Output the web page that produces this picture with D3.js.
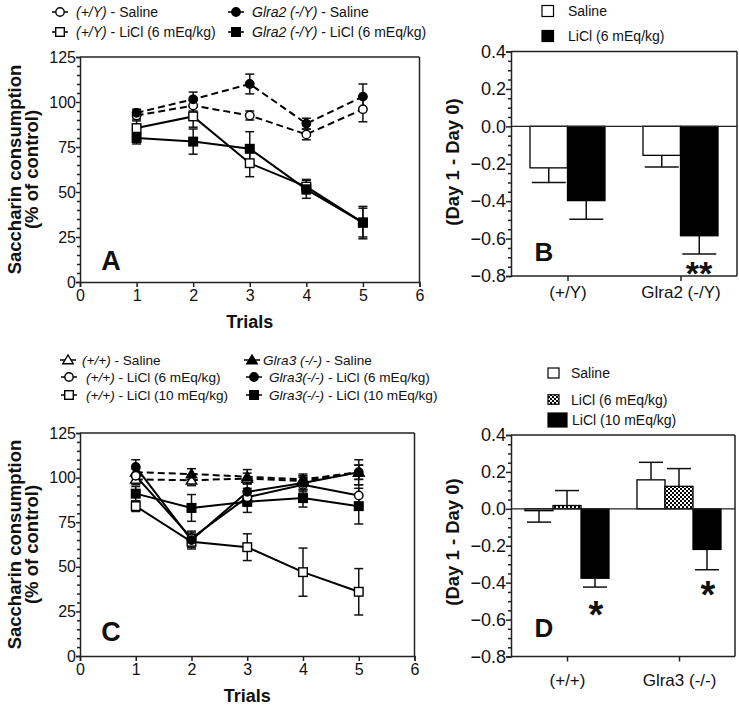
<!DOCTYPE html>
<html><head><meta charset="utf-8">
<script src="https://cdnjs.cloudflare.com/ajax/libs/d3/7.8.5/d3.min.js"></script>
<style>
body{margin:0;background:#fff;}
svg text{font-family:"Liberation Sans",Arial,sans-serif;fill:#111;}
</style></head>
<body><svg id="c" width="739" height="705"></svg>
<script>
// ---------- DATA ----------
const trials = [1, 2, 3, 4, 5];
const xTicks = [0, 1, 2, 3, 4, 5, 6];
const yTicksLine = [0, 25, 50, 75, 100, 125];
const yTicksBar = [-0.8, -0.6, -0.4, -0.2, 0.0, 0.2, 0.4];

// Panel A
const wtSalineA = [92.5, 98, 92.5, 82, 96];
const wtSalineAErr = [2, 3, 2.5, 3, 7];
const koSalineA = [94, 101.5, 110, 88, 103];
const koSalineAErr = [2, 4, 5.5, 3, 7];
const wtLiclA = [85.5, 92, 66, 53, 33];
const wtLiclAErr = [4, 6, 7.5, 4, 8];
const koLiclA = [80, 78, 74, 51.5, 33];
const koLiclAErr = [3.3, 7, 9.5, 5, 9];

// Panel B
const groupsB = ["(+/Y)", "Glra2 (-/Y)"];
const salineB = [-0.222, -0.155];
const salineBErr = [0.078, 0.062];
const liclB = [-0.397, -0.585];
const liclBErr = [0.099, 0.098];

// Panel C
const wtSalC = [99, 98.5, 99.5, 98, 103];
const wtSalCErr = [3, 3, 3, 3, 4];
const koSalC = [103, 102, 100.5, 99, 103];
const koSalCErr = [3, 3, 4, 3, 4];
const wtL6C = [101, 66, 89, 96, 90];
const wtL6CErr = [4, 4, 5, 4, 6];
const koL6C = [106, 65, 92, 97, 103];
const koL6CErr = [4, 4, 5, 4, 7];
const wtL10C = [84, 64, 61, 47, 36];
const wtL10CErr = [3, 4, 7.5, 13.5, 13];
const koL10C = [91, 83, 86.5, 88.5, 84];
const koL10CErr = [4, 7.5, 6, 5, 10];

// Panel D
const groupsD = ["(+/+)", "Glra3 (-/-)"];
const salineD = [-0.01, 0.157];
const salineDErr = [0.062, 0.095];
const licl6D = [0.018, 0.122];
const licl6DErr = [0.081, 0.096];
const licl10D = [-0.376, -0.22];
const licl10DErr = [0.048, 0.11];

// ---------- DRAW ----------
const svg = d3.select("#c");
const AX = "#222";
const defs = svg.append("defs");
const pat = defs.append("pattern").attr("id","chk").attr("width",4).attr("height",4).attr("patternUnits","userSpaceOnUse");
pat.append("rect").attr("width",4).attr("height",4).attr("fill","#fff");
pat.append("rect").attr("width",2).attr("height",2).attr("fill","#000");
pat.append("rect").attr("x",2).attr("y",2).attr("width",2).attr("height",2).attr("fill","#000");

function marker(g, shape, filled, x, y) {
  const fill = filled ? "#000" : "#fff";
  if (shape === "circle") {
    g.append("circle").attr("cx",x).attr("cy",y).attr("r",4.2).attr("fill",fill).attr("stroke","#000").attr("stroke-width",1.4);
  } else if (shape === "square") {
    g.append("rect").attr("x",x-4.3).attr("y",y-4.3).attr("width",8.6).attr("height",8.6).attr("fill",fill).attr("stroke","#000").attr("stroke-width",1.4);
  } else {
    const s = 5;
    g.append("path").attr("d",`M${x},${y-s} L${x+s*1.05},${y+s*0.75} L${x-s*1.05},${y+s*0.75} Z`).attr("fill",fill).attr("stroke","#000").attr("stroke-width",1.4);
  }
}

function linePanel(cfg) {
  const x = d3.scaleLinear().domain([0,6]).range([80, cfg.right]);
  const y = d3.scaleLinear().domain([0,125]).range([cfg.bottom, cfg.top]);
  const g = svg.append("g");
  // frame
  g.append("line").attr("x1",x(0)).attr("x2",x(6)).attr("y1",y(125)).attr("y2",y(125)).attr("stroke",AX).attr("stroke-width",1.5);
  g.append("line").attr("x1",x(6)).attr("x2",x(6)).attr("y1",y(125)).attr("y2",y(0)).attr("stroke",AX).attr("stroke-width",1.5);
  // y axis
  g.append("g").attr("transform",`translate(${x(0)},0)`)
    .call(d3.axisLeft(y).tickValues(yTicksLine).tickSize(4).tickPadding(0).tickFormat(d3.format("d")));
  g.append("g").attr("transform",`translate(${x(0)},0)`)
    .call(d3.axisLeft(y).tickValues(d3.range(0,126,5).filter(v=>v%25)).tickSize(3).tickFormat(""))
    .call(a=>a.select(".domain").remove());
  g.append("g").attr("transform",`translate(0,${y(0)})`)
    .call(d3.axisBottom(x).tickValues(xTicks).tickSize(5).tickPadding(3).tickFormat(d3.format("d")));
  g.selectAll(".tick line, .domain").attr("stroke",AX).attr("stroke-width",1.5);
  g.selectAll(".tick text").attr("font-size",16).attr("font-family","Liberation Sans, Arial").attr("fill","#222");
  // titles
  g.append("text").attr("x",x(3)).attr("y",y(0)+46).attr("text-anchor","middle").attr("font-size",18).attr("font-weight","bold").text("Trials");
  const cy = (y(0)+y(125))/2;
  g.append("text").attr("transform",`translate(21,${cy}) rotate(-90)`).attr("text-anchor","middle").attr("font-size",18.5).attr("font-weight","bold").text("Saccharin consumption");
  g.append("text").attr("transform",`translate(38,${cy}) rotate(-90)`).attr("text-anchor","middle").attr("font-size",18.5).attr("font-weight","bold").text("(% of control)");
  g.append("text").attr("x",111).attr("y",cfg.letterY).attr("text-anchor","middle").attr("font-size",27).attr("font-weight","bold").text(cfg.letter);
  // series
  const line = d3.line().x((d,i)=>x(trials[i])).y(d=>y(d));
  cfg.series.forEach(s => {
    g.append("path").attr("d",line(s.v)).attr("fill","none").attr("stroke","#000").attr("stroke-width",2)
      .attr("stroke-dasharray", s.dash ? "7,4" : null);
  });
  cfg.series.forEach(s => {
    s.v.forEach((v,i) => {
      const xx = x(trials[i]);
      const e = s.e[i];
      g.append("line").attr("x1",xx).attr("x2",xx).attr("y1",y(v-e)).attr("y2",y(v+e)).attr("stroke","#111").attr("stroke-width",1.5);
      [v-e, v+e].forEach(w => g.append("line").attr("x1",xx-4.5).attr("x2",xx+4.5).attr("y1",y(w)).attr("y2",y(w)).attr("stroke","#111").attr("stroke-width",1.5));
    });
  });
  cfg.series.forEach(s => s.v.forEach((v,i) => marker(g, s.shape, s.filled, x(trials[i]), y(v))));
  // legend
  cfg.legend.forEach(l => {
    g.append("line").attr("x1",l.x-8).attr("x2",l.x+8).attr("y1",l.y).attr("y2",l.y).attr("stroke","#000").attr("stroke-width",1.5);
    marker(g, l.shape, l.filled, l.x, l.y);
    const t = g.append("text").attr("x",l.tx).attr("y",l.y+5).attr("font-size",cfg.legendSize);
    t.append("tspan").attr("font-style","italic").text(l.it);
    t.append("tspan").text(l.rest);
  });
}

linePanel({
  right: 419.5, top: 57, bottom: 282, letter: "A", letterY: 270, legendSize: 14,
  series: [
    {v: wtSalineA, e: wtSalineAErr, shape:"circle", filled:false, dash:true},
    {v: koSalineA, e: koSalineAErr, shape:"circle", filled:true, dash:true},
    {v: wtLiclA, e: wtLiclAErr, shape:"square", filled:false, dash:false},
    {v: koLiclA, e: koLiclAErr, shape:"square", filled:true, dash:false}
  ],
  legend: [
    {x:60, y:12, tx:76, shape:"circle", filled:false, it:"(+/Y)", rest:" - Saline"},
    {x:60, y:32, tx:76, shape:"square", filled:false, it:"(+/Y)", rest:" - LiCl (6 mEq/kg)"},
    {x:236, y:12, tx:252, shape:"circle", filled:true, it:"Glra2 (-/Y)", rest:" - Saline"},
    {x:236, y:32, tx:252, shape:"square", filled:true, it:"Glra2 (-/Y)", rest:" - LiCl (6 mEq/kg)"}
  ]
});

linePanel({
  right: 414.5, top: 433, bottom: 656, letter: "C", letterY: 641, legendSize: 13.6,
  series: [
    {v: wtSalC, e: wtSalCErr, shape:"triangle", filled:false, dash:true},
    {v: koSalC, e: koSalCErr, shape:"triangle", filled:true, dash:true},
    {v: wtL10C, e: wtL10CErr, shape:"square", filled:false, dash:false},
    {v: koL10C, e: koL10CErr, shape:"square", filled:true, dash:false},
    {v: wtL6C, e: wtL6CErr, shape:"circle", filled:false, dash:false},
    {v: koL6C, e: koL6CErr, shape:"circle", filled:true, dash:false}
  ],
  legend: [
    {x:68, y:360, tx:82, shape:"triangle", filled:false, it:"(+/+)", rest:" - Saline"},
    {x:69, y:377, tx:86, shape:"circle", filled:false, it:"(+/+)", rest:" - LiCl (6 mEq/kg)"},
    {x:69, y:395, tx:86, shape:"square", filled:false, it:"(+/+)", rest:" - LiCl (10 mEq/kg)"},
    {x:252, y:360, tx:263, shape:"triangle", filled:true, it:"Glra3 (-/-)", rest:" - Saline"},
    {x:254, y:377, tx:269, shape:"circle", filled:true, it:"Glra3(-/-)", rest:" - LiCl (6 mEq/kg)"},
    {x:254, y:395, tx:269, shape:"square", filled:true, it:"Glra3(-/-)", rest:" - LiCl (10 mEq/kg)"}
  ]
});

function barPanel(cfg) {
  const y = d3.scaleLinear().domain([-0.8,0.4]).range([cfg.bottom, cfg.top]);
  const x = d3.scalePoint().domain(cfg.groups).range([511, cfg.right]).padding(0.5);
  const sub = d3.scaleBand().domain(cfg.series.map((s,i)=>i)).range([-cfg.half, cfg.half]);
  const g = svg.append("g");
  // frame
  g.append("line").attr("x1",511).attr("x2",cfg.right).attr("y1",y(0.4)).attr("y2",y(0.4)).attr("stroke",AX).attr("stroke-width",1.5);
  g.append("line").attr("x1",cfg.right).attr("x2",cfg.right).attr("y1",y(0.4)).attr("y2",y(-0.8)).attr("stroke",AX).attr("stroke-width",1.5);
  // bars
  cfg.series.forEach((s,si) => {
    s.v.forEach((v,gi) => {
      const xx = x(cfg.groups[gi]) + sub(si);
      const w = sub.bandwidth();
      g.append("rect").attr("x",xx).attr("width",w).attr("y",y(Math.max(0,v))).attr("height",Math.abs(y(v)-y(0)))
        .attr("fill",s.fill).attr("stroke","#000").attr("stroke-width",1.3);
      const cx = xx + w/2, end = v >= 0 ? v + s.e[gi] : v - s.e[gi];
      g.append("line").attr("x1",cx).attr("x2",cx).attr("y1",y(v)).attr("y2",y(end)).attr("stroke","#111").attr("stroke-width",1.5);
      g.append("line").attr("x1",cx-cfg.cap).attr("x2",cx+cfg.cap).attr("y1",y(end)).attr("y2",y(end)).attr("stroke","#111").attr("stroke-width",1.5);
    });
  });
  // zero line
  g.append("line").attr("x1",511).attr("x2",cfg.right).attr("y1",y(0)).attr("y2",y(0)).attr("stroke",AX).attr("stroke-width",1.3);
  // axes
  g.append("g").attr("transform","translate(511,0)")
    .call(d3.axisLeft(y).tickValues(yTicksBar).tickSize(5).tickPadding(0).tickFormat(d3.format(".1f")))
    .call(a=>a.selectAll(".tick text").attr("font-size",18));
  g.append("g").attr("transform","translate(511,0)")
    .call(d3.axisLeft(y).tickValues(d3.range(-16,9).map(k=>k*0.05).filter(v=>Math.abs(Math.round(v*5)-v*5)>0.01)).tickSize(3).tickFormat(""))
    .call(a=>a.select(".domain").remove());
  g.append("g").attr("transform",`translate(0,${y(-0.8)})`)
    .call(d3.axisBottom(x).tickSize(5).tickPadding(cfg.xpad))
    .call(a=>a.select(".domain").attr("d",`M511,0H${cfg.right}`))
    .call(a=>a.selectAll(".tick text").attr("font-size",17));
  g.selectAll(".tick line, .domain").attr("stroke",AX).attr("stroke-width",1.5);
  g.selectAll(".tick text").attr("font-family","Liberation Sans, Arial").attr("fill","#222");
  g.append("text").attr("transform",`translate(459,${cfg.titleY}) rotate(-90)`).attr("text-anchor","middle").attr("font-size",18.5).attr("font-weight","bold").text("(Day 1 - Day 0)");
  g.append("text").attr("x",544).attr("y",cfg.letterY).attr("text-anchor","middle").attr("font-size",26).attr("font-weight","bold").text(cfg.letter);
  cfg.stars.forEach(s => g.append("text").attr("x",s.x).attr("y",s.y).attr("text-anchor","middle").attr("font-size",s.size).attr("font-weight","bold").text(s.t));
  // legend
  cfg.legend.forEach(l => {
    g.append("rect").attr("x",l.x).attr("y",l.y-l.h/2).attr("width",l.w).attr("height",l.h).attr("fill",l.fill).attr("stroke","#000").attr("stroke-width",1.2);
    g.append("text").attr("x",l.tx).attr("y",l.y+5).attr("font-size",14).text(l.t);
  });
}

barPanel({
  groups: groupsB, right: 737, top: 51.5, bottom: 276, half: 37.5, cap: 17, xpad: 5,
  letter: "B", letterY: 261, titleY: 162,
  series: [{v: salineB, e: salineBErr, fill:"#fff"}, {v: liclB, e: liclBErr, fill:"#000"}],
  stars: [{x:699, y:285, t:"**", size:34}],
  legend: [
    {x:542, y:11, w:11.5, h:11, fill:"#fff", tx:568, t:"Saline"},
    {x:542, y:36, w:11.5, h:11, fill:"#000", tx:568, t:"LiCl (6 mEq/kg)"}
  ]
});

barPanel({
  groups: groupsD, right: 735, top: 435, bottom: 656.5, half: 42, cap: 12, xpad: 12,
  letter: "D", letterY: 637, titleY: 542,
  series: [{v: salineD, e: salineDErr, fill:"#fff"}, {v: licl6D, e: licl6DErr, fill:"url(#chk)"}, {v: licl10D, e: licl10DErr, fill:"#000"}],
  stars: [{x:596, y:628, t:"*", size:38}, {x:708, y:608, t:"*", size:38}],
  legend: [
    {x:548, y:373, w:11, h:10, fill:"#fff", tx:571, t:"Saline"},
    {x:548, y:399.5, w:11, h:9.5, fill:"url(#chk)", tx:571, t:" LiCl (6 mEq/kg)"},
    {x:548, y:420, w:19, h:14, fill:"#000", tx:572, t:"LiCl (10 mEq/kg)"}
  ]
});
</script></body></html>
